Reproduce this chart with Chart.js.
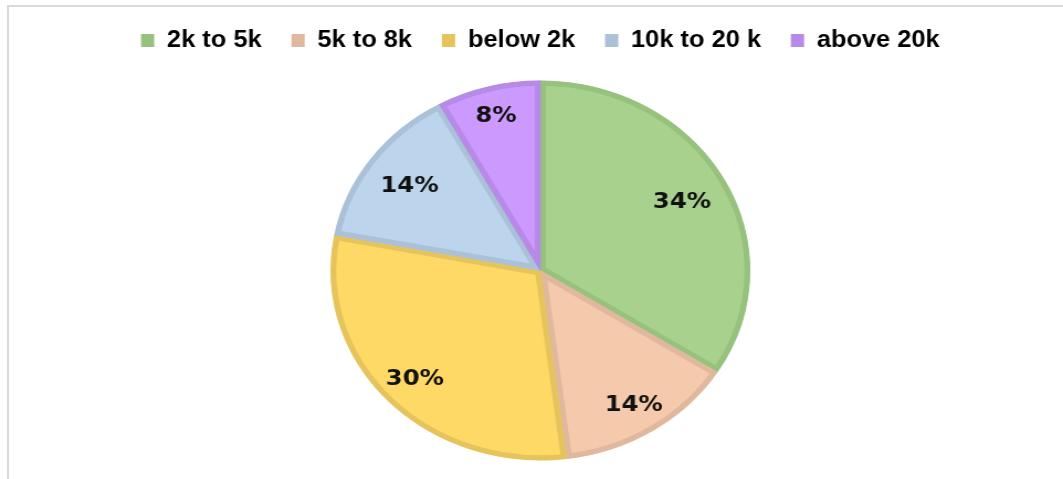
<!DOCTYPE html>
<html>
<head>
<meta charset="utf-8">
<script src="https://cdn.jsdelivr.net/npm/chart.js@4/dist/chart.umd.min.js"></script>
<style>
  html, body { margin: 0; padding: 0; background: #ffffff; overflow: hidden; }
  #frame { position: absolute; left: 7px; top: 5px; width: 1060px; height: 480px;
           border-top: 2px solid #d9d9d9; border-left: 2px solid #d9d9d9; box-sizing: border-box; }
  #wrap { position: absolute; left: 0; top: 0; width: 962px; height: 479px;
          transform: scaleX(1.105); transform-origin: 0 0; }
  canvas { display: block; }
</style>
</head>
<body>
<div id="frame"></div>
<div id="wrap"><canvas id="c" width="962" height="479" style="width:962px;height:479px"></canvas></div>
<script>
// Income bands and their share (%)
const categories = ['2k to 5k', '5k to 8k', 'below 2k', '10k to 20 k', 'above 20k'];
const shares = [34, 14, 30, 14, 8];

const fillColors = ['#a9d18e', '#f5c9ab', '#ffd966', '#bcd5ec', '#cc99ff'];
const edgeColors = ['#97c27d', '#dfb89e', '#e6c45d', '#abc1d8', '#b68ae6'];
// how far out along each slice's middle its label sits (fraction of the radius)
const labelReach = [0.77, 0.83, 0.82, 0.77, 0.85];

// Percentage labels placed inside each slice
const sliceLabels = {
  id: 'sliceLabels',
  afterDatasetsDraw(chart) {
    const ctx = chart.ctx;
    const meta = chart.getDatasetMeta(0);
    ctx.save();
    ctx.font = 'bold 22px "DejaVu Sans", sans-serif';
    ctx.fillStyle = '#111111';
    ctx.textAlign = 'center';
    ctx.textBaseline = 'middle';
    meta.data.forEach((arc, i) => {
      const p = arc.getProps(['x', 'y', 'startAngle', 'endAngle', 'outerRadius'], true);
      const mid = (p.startAngle + p.endAngle) / 2;
      const r = p.outerRadius * labelReach[i];
      ctx.fillText(shares[i] + '%', p.x + Math.cos(mid) * r, p.y + Math.sin(mid) * r + 2);
    });
    ctx.restore();
  }
};

new Chart(document.getElementById('c'), {
  type: 'pie',
  data: {
    labels: categories,
    datasets: [{
      data: shares,
      backgroundColor: fillColors,
      borderColor: edgeColors,
      borderWidth: 5,
      borderAlign: 'inner',
      radius: 190
    }]
  },
  options: {
    responsive: false,
    animation: false,
    devicePixelRatio: 1,
    layout: { padding: { top: 2, bottom: 0, left: 16, right: 0 } },
    plugins: {
      tooltip: { enabled: false },
      legend: {
        position: 'top',
        labels: {
          boxWidth: 12,
          boxHeight: 13,
          padding: 27,
          color: '#111111',
          font: { family: '"Liberation Sans", Arial, sans-serif', size: 23, weight: 'bold' },
          generateLabels(chart) {
            return chart.data.labels.map((t, i) => ({
              text: t,
              fillStyle: edgeColors[i],
              strokeStyle: edgeColors[i],
              lineWidth: 0,
              hidden: false,
              index: i
            }));
          }
        }
      }
    }
  },
  plugins: [sliceLabels]
});
</script>
</body>
</html>
